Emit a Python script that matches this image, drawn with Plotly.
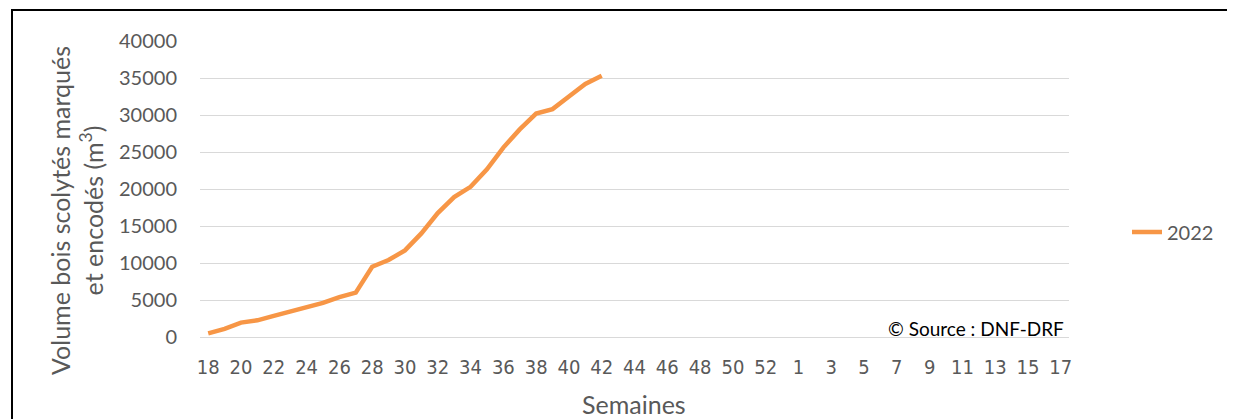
import plotly.graph_objects as go

# Categories: ISO weeks from 18 to 53, then 1 to 17 (week 53 unlabeled slot)
weeks = [str(w) for w in range(18, 54)] + [str(w) for w in range(1, 18)]
tick_labels = weeks[::2]

series_name = "2022"
weeks_2022 = weeks[:25]  # weeks 18..42
volume_2022 = [500, 1100, 1950, 2250, 2850, 3450, 3950, 4600, 5400, 6000,
               9500, 10400, 11700, 14000, 16750, 18900, 20300, 22650, 25600,
               28050, 30200, 30800, 32500, 34200, 35300]

y_ticks = [0, 5000, 10000, 15000, 20000, 25000, 30000, 35000, 40000]

GRAY = "#595959"
FONT = "Lato"

fig = go.Figure()
fig.add_trace(go.Scatter(
    x=weeks_2022, y=volume_2022, mode="lines", name=series_name,
    line=dict(color="#F79646", width=4.5),
))

OFF = 8  # page body margin
W, H = 1235 - OFF, 419 - OFF
L, T = 200 - OFF, 41 - OFF
pw, ph = 869, 296
R, B = W - L - pw, H - T - ph

def px(x):
    return (x - OFF - L) / pw

def py(y):
    return (T + ph - (y - OFF)) / ph

fig.update_layout(
    width=W, height=H,
    margin=dict(l=L, r=R, t=T, b=B, pad=0),
    paper_bgcolor="white", plot_bgcolor="white",
    font=dict(family=FONT, color=GRAY, size=20),
    showlegend=True,
    legend=dict(x=px(1127), xanchor="left", y=py(232), yanchor="middle",
                font=dict(size=20, color=GRAY, family=FONT),
                bgcolor="rgba(0,0,0,0)"),
    xaxis=dict(
        type="category", categoryorder="array", categoryarray=weeks,
        range=[-0.5, len(weeks) - 0.5],
        tickmode="array", tickvals=tick_labels, ticktext=tick_labels,
        tickangle=0, showgrid=False, zeroline=False, showline=False,
        ticks="", ticklabelstandoff=16,
        tickfont=dict(family="Liberation Sans Narrow, DejaVu Sans Condensed, Lato",
                      size=20, color=GRAY),
    ),
    yaxis=dict(
        range=[0, 40000], tickmode="array", tickvals=y_ticks,
        ticktext=[str(v) for v in y_ticks],
        showgrid=True, gridcolor="#D9D9D9", gridwidth=1,
        zeroline=True, zerolinecolor="#D9D9D9", zerolinewidth=1,
        showline=False, ticks="", ticklabelstandoff=22,
        tickfont=dict(family=FONT, size=20, color=GRAY),
    ),
    annotations=[
        dict(text="Volume bois scolytés marqués<br>et encodés (m<sup>3</sup>)",
             xref="paper", yref="paper", x=px(76), y=py(211),
             xanchor="center", yanchor="middle", textangle=-90,
             showarrow=False, font=dict(family=FONT, size=25, color=GRAY)),
        dict(text="Semaines", xref="paper", yref="paper",
             x=px(634), y=py(404), xanchor="center", yanchor="middle",
             showarrow=False, font=dict(family=FONT, size=25, color=GRAY)),
        dict(text="© Source : DNF-DRF", xref="paper", yref="paper",
             x=px(1066), y=py(328), xanchor="right", yanchor="middle",
             showarrow=False, font=dict(family=FONT, size=19, color="#000000")),
    ],
    shapes=[
        dict(type="rect", xref="paper", yref="paper",
             x0=px(12), x1=px(1229), y0=py(440), y1=py(10),
             line=dict(color="#000000", width=2), fillcolor="rgba(0,0,0,0)",
             layer="above"),
    ],
)

fig.write_html("out.html")
